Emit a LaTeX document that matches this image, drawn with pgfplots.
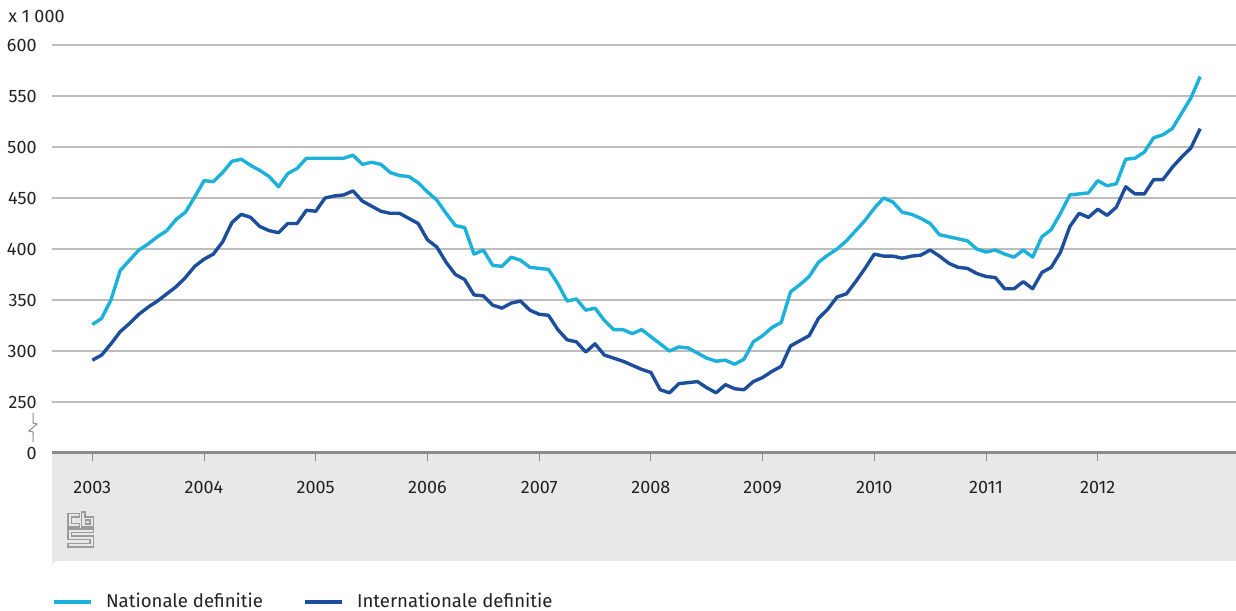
\documentclass[border=0pt]{standalone}
\usepackage{fontspec}
\setmainfont{Fira Sans}
\usepackage{pgfplots}
\usepackage{pgfplotstable}
\pgfplotsset{compat=1.18}

\definecolor{natblue}{HTML}{1BB1DA}
\definecolor{intblue}{HTML}{1C4E9C}
\definecolor{gridgray}{HTML}{BDBDBD}
\definecolor{bandgray}{HTML}{E8E8E8}
\definecolor{axisgray}{HTML}{8C8C8C}
\definecolor{logogray}{HTML}{9B9B9B}
\definecolor{textcol}{HTML}{222222}

% werkloze beroepsbevolking x 1000, maandcijfers jan 2003 - dec 2012
\pgfplotstableread{
i nat int
0 326 291
1 332 296
2 350 307
3 379 319
4 389 327
5 399 336
6 405 343
7 412 349
8 418 356
9 429 363
10 436 372
11 451 383
12 467 390
13 466 395
14 475 407
15 486 426
16 488 434
17 482 431
18 477 422
19 471 418
20 461 416
21 474 425
22 479 425
23 489 438
24 489 437
25 489 450
26 489 452
27 489 453
28 492 457
29 483 447
30 485 442
31 483 437
32 475 435
33 472 435
34 471 430
35 465 425
36 456 409
37 448 402
38 435 387
39 423 375
40 421 370
41 395 355
42 399 354
43 384 345
44 383 342
45 392 347
46 389 349
47 382 340
48 381 336
49 380 335
50 366 321
51 349 311
52 351 309
53 340 299
54 342 307
55 330 296
56 321 293
57 321 290
58 317 286
59 321 282
60 314 279
61 307 262
62 300 259
63 304 268
64 303 269
65 298 270
66 293 264
67 290 259
68 291 267
69 287 263
70 292 262
71 309 270
72 315 274
73 323 280
74 328 285
75 358 305
76 365 310
77 373 315
78 387 332
79 394 341
80 400 353
81 408 356
82 418 368
83 428 381
84 440 395
85 450 393
86 446 393
87 436 391
88 434 393
89 430 394
90 425 399
91 414 393
92 412 386
93 410 382
94 408 381
95 400 376
96 397 373
97 399 372
98 395 361
99 392 361
100 399 368
101 392 361
102 412 377
103 419 382
104 435 397
105 453 422
106 454 435
107 455 431
108 467 439
109 462 433
110 464 441
111 488 461
112 489 454
113 495 454
114 509 468
115 512 468
116 518 480
117 533 490
118 548 499
119 569 518
}\werkloos

\begin{document}
\begin{tikzpicture}
\useasboundingbox (0,0) rectangle (618pt,305pt);

% grijze band onder de as, met logo en afbreekteken (coordinaten in px)
\begin{scope}[x=0.5pt,y=-0.5pt,shift={(0pt,305pt)}]
  \fill[bandgray] (52,453) -- (1236,453) -- (1236,561) -- (57,561)
    arc[start angle=270,end angle=180,radius=5] -- cycle;
  \begin{scope}[shift={(68,512)},logogray,line width=0.6pt]
    \draw (11.5,1.5) -- (0,1.5) -- (0,15) -- (11.5,15) -- (11.5,11.5)
      -- (3.5,11.5) -- (3.5,5) -- (11.5,5) -- cycle;
    \draw (13.5,0) -- (17,0) -- (17,5) -- (25.5,5) -- (25.5,15) -- (13.5,15) -- cycle;
    \draw (17.5,8) rectangle (22,12);
    \draw (25.5,17) -- (0,17) -- (0,27.5) -- (22,27.5) -- (22,31.5) -- (0,31.5)
      -- (0,35) -- (25.5,35) -- (25.5,24) -- (3.5,24) -- (3.5,20.5) -- (25.5,20.5) -- cycle;
  \end{scope}
  \draw[axisgray,line width=0.5pt] (33,413) -- (33,423) -- (37,424) -- (29,431)
    -- (33,432) -- (33,442);
  \node[anchor=west,inner sep=0pt,text=textcol,font=\fontsize{9}{10}\selectfont]
    at (8,16.7) {x 1 000};
\end{scope}

\begin{axis}[
  at={(26pt,78.5pt)}, anchor=south west,
  scale only axis, width=592pt, height=204pt,
  xmin=-4.33, xmax=122.85, ymin=0, ymax=400,
  axis x line*=bottom, axis y line*=left,
  y axis line style={draw=none},
  x axis line style={draw=axisgray, line width=1.5pt, -},
  xtick={0,12,24,36,48,60,72,84,96,108},
  xticklabels={2003,2004,2005,2006,2007,2008,2009,2010,2011,2012},
  ytick={0,50,100,150,200,250,300,350,400},
  yticklabels={0,250,300,350,400,450,500,550,600},
  xtick align=outside, major tick length=4pt,
  xtick style={draw=axisgray, line width=0.5pt},
  ytick style={draw=none},
  ymajorgrids, major grid style={draw=gridgray, line width=0.75pt},
  tick label style={font=\fontsize{9}{10}\selectfont, text=textcol},
  /pgf/number format/assume math mode=true,
  yticklabel style={inner sep=0pt, anchor=east, xshift=-7.5pt},
  xticklabel style={inner sep=0pt, anchor=north, yshift=-10pt},
  y filter/.expression={y-200},
  legend style={at={(0,-0.365)}, anchor=west, draw=none, fill=none,
    inner sep=0pt, outer sep=0pt, legend columns=2,
    font=\fontsize{9.3}{11}\selectfont, text=textcol,
    nodes={inner sep=0pt},
    /tikz/every odd column/.append style={column sep=6.5pt},
    /tikz/every even column/.append style={column sep=20pt}},
  legend cell align=left,
  legend image code/.code={\draw[#1,line width=1.75pt] (0pt,0pt) -- (18.75pt,0pt);},
]
\addplot[natblue, line width=1.7pt, line join=round] table[x=i, y=nat] {\werkloos};
\addplot[intblue, line width=1.7pt, line join=round] table[x=i, y=int] {\werkloos};
\legend{Nationale definitie, Internationale definitie}
\end{axis}
\end{tikzpicture}
\end{document}
